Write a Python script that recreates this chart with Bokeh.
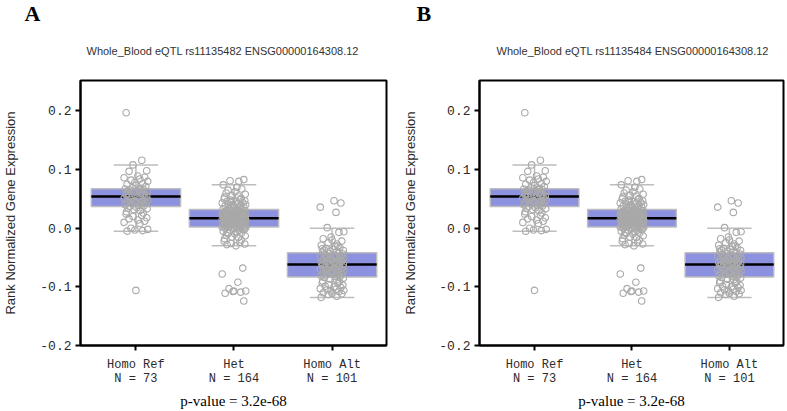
from bokeh.plotting import figure
from bokeh.layouts import row
from bokeh.models import Range1d, FixedTicker, PrintfTickFormatter, Title
from bokeh.embed import file_html
from bokeh.resources import INLINE

# ---------------- data ----------------
genotypes = ["Homo Ref", "Het", "Homo Alt"]
n_samples = [73, 164, 101]
p_value_text = "p-value = 3.2e-68"
gene = "ENSG00000164308.12"
snps = ["rs11135482", "rs11135484"]
panel_letters = ["A", "B"]

box_lower = [-0.005, -0.030, -0.118]
box_q1 = [0.037, 0.002, -0.083]
box_median = [0.054, 0.017, -0.062]
box_q3 = [0.0675, 0.032, -0.042]
box_upper = [0.108, 0.074, 0.000]

y_ticks = [-0.2, -0.1, 0.0, 0.1, 0.2]

homo_ref_values = [0.197, 0.116, 0.108, 0.098, 0.097, 0.089, 0.087, 0.086, 0.084, 0.082,
                   0.080, 0.078, 0.076, 0.075, 0.073, 0.071, 0.069, 0.068, 0.067, 0.066,
                   0.066, 0.065, 0.064, 0.063, 0.062, 0.061, 0.060, 0.059, 0.058, 0.057,
                   0.056, 0.055, 0.055, 0.054, 0.053, 0.052, 0.051, 0.050, 0.049, 0.048,
                   0.047, 0.046, 0.045, 0.044, 0.043, 0.042, 0.041, 0.040, 0.039, 0.038,
                   0.037, 0.035, 0.034, 0.033, 0.032, 0.030, 0.028, 0.026, 0.024, 0.022,
                   0.020, 0.018, 0.016, 0.014, 0.012, 0.010, 0.008, 0.000, -0.002, -0.003,
                   -0.004, -0.005, -0.106]

het_values = [0.083, 0.081, 0.080,
              0.074, 0.070, 0.067, 0.065, 0.062, 0.060, 0.058, 0.056, 0.055, 0.053,
              0.051, 0.050, 0.049, 0.048, 0.047, 0.046, 0.045, 0.044, 0.043, 0.042,
              0.041, 0.040, 0.040, 0.039, 0.038, 0.037, 0.036, 0.035, 0.034, 0.033,
              0.032, 0.032, 0.031, 0.031, 0.030, 0.030, 0.029, 0.029, 0.028, 0.028,
              0.027, 0.027, 0.026, 0.026, 0.025, 0.025, 0.024, 0.024, 0.024, 0.023,
              0.023, 0.022, 0.022, 0.022, 0.021, 0.021, 0.021, 0.020, 0.020, 0.020,
              0.019, 0.019, 0.019, 0.018, 0.018, 0.018, 0.018, 0.017, 0.017, 0.017, 0.017,
              0.016, 0.016, 0.016, 0.015, 0.015, 0.015, 0.014, 0.014, 0.014, 0.013,
              0.013, 0.013, 0.012, 0.012, 0.012, 0.011, 0.011, 0.010, 0.010, 0.010,
              0.009, 0.009, 0.008, 0.008, 0.007, 0.007, 0.006, 0.006, 0.005, 0.005,
              0.004, 0.004, 0.003, 0.003, 0.002, 0.002, 0.002, 0.001, 0.001, 0.000, 0.000,
              0.000, -0.002, -0.003, -0.004, -0.005, -0.006, -0.008, -0.009, -0.010,
              -0.012, -0.013, -0.015, -0.016, -0.018, -0.020, -0.022, -0.024, -0.026,
              -0.027, -0.028, -0.030,
              -0.068, -0.078, -0.092, -0.103, -0.107, -0.108, -0.109, -0.111, -0.107, -0.124,
              0.030, 0.028, 0.026, 0.025, 0.023, 0.021, 0.019, 0.015, 0.013, 0.011,
              0.009, 0.007, 0.005, 0.003, 0.036, 0.044, -0.001, -0.007]

homo_alt_values = [0.047, 0.043, 0.036, 0.027,
                   0.001, -0.006, -0.015, -0.007, -0.018, -0.020, -0.022, -0.025, -0.027,
                   -0.029, -0.031, -0.033, -0.034, -0.036, -0.037, -0.038, -0.039, -0.040,
                   -0.041, -0.042, -0.035, -0.030,
                   -0.043, -0.044, -0.045, -0.046, -0.047, -0.048, -0.049, -0.050, -0.051,
                   -0.052, -0.053, -0.054, -0.055, -0.056, -0.056, -0.057, -0.058, -0.058,
                   -0.059, -0.060, -0.060, -0.061, -0.061, -0.062, -0.062,
                   -0.063, -0.063, -0.064, -0.065, -0.066, -0.066, -0.067, -0.068, -0.069,
                   -0.070, -0.071, -0.072, -0.073, -0.074, -0.075, -0.076, -0.077, -0.078,
                   -0.079, -0.080, -0.081, -0.082, -0.083, -0.070, -0.074,
                   -0.084, -0.085, -0.087, -0.088, -0.090, -0.091, -0.093, -0.094, -0.096,
                   -0.097, -0.099, -0.100, -0.101, -0.103, -0.104, -0.105, -0.106, -0.107,
                   -0.108, -0.110, -0.111, -0.112, -0.113, -0.116, -0.118]

group_values = [homo_ref_values, het_values, homo_alt_values]

# ---------------- style ----------------
BOX_FILL = "#8c91e0"
BOX_LINE = "#bdbdbd"
POINT_LINE = "#a9a9a9"
TEXT_COL = "#2b2b2b"
JITTER = [-0.10, 0.06, -0.03, 0.11, -0.07, 0.02, 0.09, -0.12, 0.04, -0.05, 0.12,
          -0.01, 0.07, -0.09, 0.00, 0.10, -0.04, 0.05, -0.11, 0.03, 0.08, -0.06,
          0.01, -0.08, 0.115, -0.02, 0.045, -0.095, 0.075]


def make_panel(idx, width, b_left, b_right, letter_offset, title_offset, ylab_standoff):
    p = figure(width=width, height=411, output_backend="svg", toolbar_location=None,
               x_range=Range1d(0.435, 3.555), y_range=Range1d(-0.2, 0.252),
               min_border_left=b_left, min_border_right=b_right,
               min_border_top=78, min_border_bottom=65)
    p.title.text = panel_letters[idx]
    p.title.align = "left"
    p.title.offset = letter_offset
    p.title.vertical_align = "bottom"
    p.title.text_font = "Liberation Serif"
    p.title.text_font_size = "22px"
    p.title.text_font_style = "bold"
    p.title.text_color = "black"
    p.title.standoff = -4

    p.add_layout(Title(text=f"Whole_Blood eQTL {snps[idx]} {gene}", align="left",
                       offset=title_offset, vertical_align="top",
                       text_font="Liberation Sans", text_font_size="11px",
                       text_font_style="normal", text_color="#333333",
                       standoff=43), "above")

    p.grid.visible = False
    p.outline_line_color = "black"
    p.outline_line_width = 2
    p.background_fill_color = "white"
    p.border_fill_color = "white"

    cats = [1, 2, 3]
    p.segment(x0=cats, x1=cats, y0=box_q3, y1=box_upper, line_color=BOX_LINE, line_width=1.5)
    p.segment(x0=cats, x1=cats, y0=box_q1, y1=box_lower, line_color=BOX_LINE, line_width=1.5)
    p.segment(x0=[c - 0.227 for c in cats], x1=[c + 0.227 for c in cats], y0=box_upper,
              y1=box_upper, line_color=BOX_LINE, line_width=1.5)
    p.segment(x0=[c - 0.227 for c in cats], x1=[c + 0.227 for c in cats], y0=box_lower,
              y1=box_lower, line_color=BOX_LINE, line_width=1.5)
    p.vbar(x=cats, width=0.91, bottom=box_q1, top=box_q3, fill_color=BOX_FILL,
           line_color=BOX_LINE, line_width=1.5)
    p.segment(x0=[c - 0.455 for c in cats], x1=[c + 0.455 for c in cats], y0=box_median,
              y1=box_median, line_color="black", line_width=2.5)
    xs, ys = [], []
    k = 0
    for gi, vals in enumerate(group_values):
        for v in vals:
            xs.append(cats[gi] + JITTER[k % len(JITTER)])
            ys.append(v)
            k += 1
    p.scatter(xs, ys, marker="circle", size=6.5, fill_alpha=0, line_color=POINT_LINE,
              line_width=1.1)

    p.xaxis.ticker = FixedTicker(ticks=cats)
    p.xaxis.major_label_overrides = {c: f"{g}\nN = {n}" for c, g, n in zip(cats, genotypes, n_samples)}
    p.yaxis.ticker = FixedTicker(ticks=y_ticks)
    p.yaxis.formatter = PrintfTickFormatter(format="%.1f")
    for ax in (p.xaxis[0], p.yaxis[0]):
        ax.axis_line_width = 2
        ax.axis_line_color = "black"
        ax.major_tick_line_width = 2
        ax.major_tick_line_color = "black"
        ax.major_tick_out = 5
        ax.major_tick_in = 0
        ax.minor_tick_line_color = None
        ax.major_label_text_font = "Liberation Mono"
        ax.major_label_text_color = TEXT_COL
    p.yaxis.major_label_standoff = 4
    p.xaxis.major_label_standoff = 7
    p.yaxis.major_label_text_font_size = "13px"
    p.xaxis.major_label_text_font_size = "12px"
    p.xaxis.major_label_text_line_height = 1.0
    p.yaxis.axis_label = "Rank Normalized Gene Expression"
    p.yaxis.axis_label_text_font = "Liberation Sans"
    p.yaxis.axis_label_text_font_style = "normal"
    p.yaxis.axis_label_text_font_size = "13px"
    p.yaxis.axis_label_text_color = TEXT_COL
    p.yaxis.axis_label_standoff = ylab_standoff
    p.xaxis.axis_label = p_value_text
    p.xaxis.axis_label_text_font = "Liberation Serif"
    p.xaxis.axis_label_text_font_style = "normal"
    p.xaxis.axis_label_text_font_size = "15px"
    p.xaxis.axis_label_text_color = "black"
    p.xaxis.axis_label_standoff = 4
    return p


pA = make_panel(0, 400, 77, 14, -56, 6, 19)
pB = make_panel(1, 387, 74, 4, -63, 17, 18)
layout = row(pA, pB)

open("out.html", "w").write(file_html(layout, INLINE))
